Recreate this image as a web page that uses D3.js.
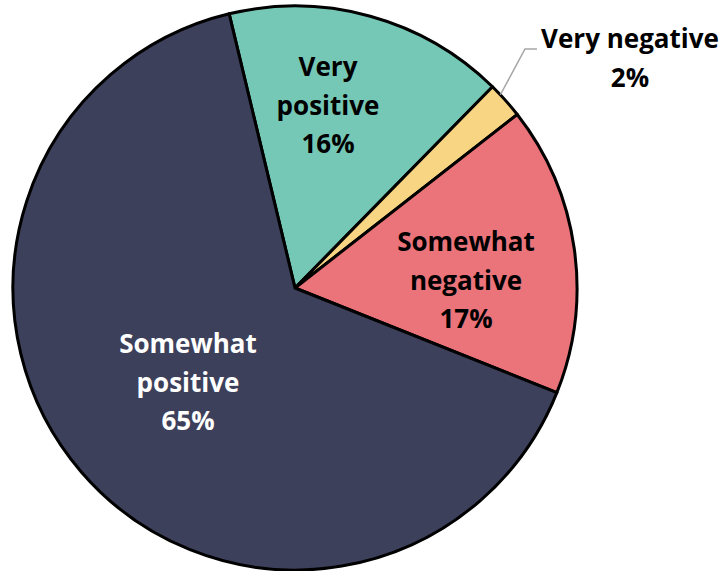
<!DOCTYPE html>
<html>
<head>
<meta charset="utf-8">
<script src="https://cdn.jsdelivr.net/npm/d3@7"></script>
<style>
  html, body { margin: 0; padding: 0; background: #ffffff; }
  svg { display: block; }
</style>
</head>
<body>
<svg id="chart" width="725" height="571"></svg>
<script>
// ---- data ----
const categories = ["Very positive", "Very negative", "Somewhat negative", "Somewhat positive"];
const values = [16.1, 2.1, 16.6, 65.2];
const colors = ["#75C8B6", "#F8D582", "#EA747A", "#3D405B"];
const labelColors = ["#000000", "#000000", "#000000", "#ffffff"];

// ---- layout ----
const width = 725, height = 571;
const cx = 295, cy = 288, radius = 282;
const startDeg = -13.5;
const fontFamily = "'Open Sans', Carlito, Lato, sans-serif";
const fontSize = 26;
const lineHeight = 38.5;
// label anchor: center x and baseline of the first line (page pixels)
const labelAnchors = [[328, 76], [630, 48], [466, 251], [188, 353]];

const svg = d3.select("#chart");
const g = svg.append("g").attr("transform", `translate(${cx},${cy})`);

const pie = d3.pie().sort(null).value(d => d)
  .startAngle(startDeg * Math.PI / 180)
  .endAngle(startDeg * Math.PI / 180 + 2 * Math.PI);
const arcs = pie(values);
const arc = d3.arc().innerRadius(0).outerRadius(radius);

g.selectAll("path.slice")
  .data(arcs)
  .join("path")
  .attr("class", "slice")
  .attr("d", arc)
  .attr("fill", (d, i) => colors[i])
  .attr("stroke", "#000")
  .attr("stroke-width", 3)
  .attr("stroke-linejoin", "round");

// leader line for the small slice
{
  const d = arcs[1];
  const a = (d.startAngle + d.endAngle) / 2 - 1.5 * Math.PI / 180;
  const r0 = radius;
  const p0 = [cx + r0 * Math.sin(a), cy - r0 * Math.cos(a)];
  const p1 = [525, 49];
  const p2 = [537, 49];
  svg.append("path")
    .attr("d", d3.line()([p0, p1, p2]))
    .attr("fill", "none")
    .attr("stroke", "#A6A6A6")
    .attr("stroke-width", 1.5);
}

function labelLines(i) {
  const pct = Math.round(values[i]) + "%";
  const name = categories[i];
  if (i === 1) return [name, pct];
  const parts = name.split(" ");
  return [parts[0], parts.slice(1).join(" "), pct];
}

arcs.forEach((d, i) => {
  const [x, y0] = labelAnchors[i];
  const lines = labelLines(i);
  const t = svg.append("text")
    .attr("text-anchor", "middle")
    .attr("font-family", fontFamily)
    .attr("font-weight", "bold")
    .attr("font-size", fontSize)
    .attr("fill", labelColors[i]);
  lines.forEach((ln, k) => {
    t.append("tspan")
      .attr("x", x)
      .attr("y", y0 + k * lineHeight)
      .text(ln);
  });
});
</script>
</body>
</html>
